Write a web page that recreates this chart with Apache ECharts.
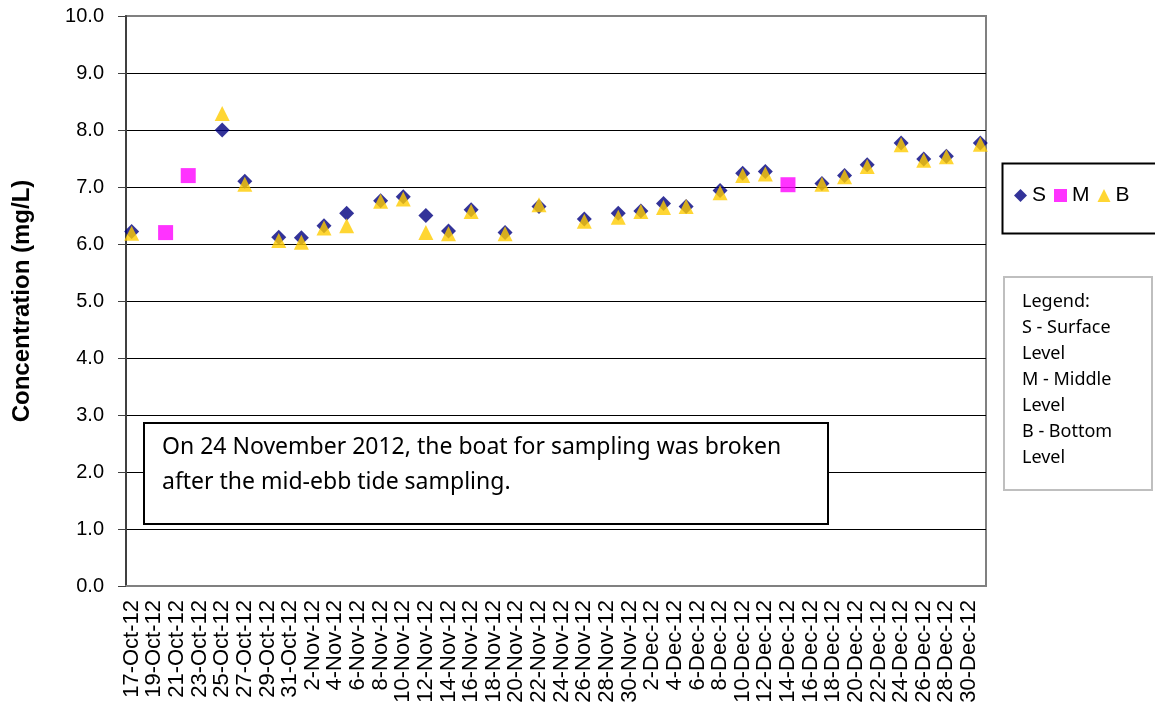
<!DOCTYPE html>
<html>
<head>
<meta charset="utf-8">
<script src="https://cdn.jsdelivr.net/npm/echarts@6/dist/echarts.min.js"></script>
<style>
  html, body { margin: 0; padding: 0; background: #fff; }
  #chart { width: 1155px; height: 714px; }
</style>
</head>
<body>
<div id="chart"></div>
<script>
// sampling days for surface / bottom level
const sbDates = ['17-Oct-12', '25-Oct-12', '27-Oct-12', '30-Oct-12', '1-Nov-12', '3-Nov-12', '5-Nov-12',
  '8-Nov-12', '10-Nov-12', '12-Nov-12', '14-Nov-12', '16-Nov-12', '19-Nov-12', '22-Nov-12', '26-Nov-12',
  '29-Nov-12', '1-Dec-12', '3-Dec-12', '5-Dec-12', '8-Dec-12', '10-Dec-12', '12-Dec-12', '17-Dec-12',
  '19-Dec-12', '21-Dec-12', '24-Dec-12', '26-Dec-12', '28-Dec-12', '31-Dec-12']
const surfaceValues = [6.22, 8.0, 7.1, 6.12, 6.11, 6.32, 6.54, 6.76, 6.83, 6.5, 6.23, 6.6, 6.2, 6.66, 6.44,
  6.54, 6.58, 6.71, 6.66, 6.94, 7.24, 7.27, 7.06, 7.2, 7.39, 7.77, 7.49, 7.54, 7.77]
const bottomValues = [6.19, 8.29, 7.05, 6.06, 6.03, 6.28, 6.32, 6.75, 6.79, 6.2, 6.18, 6.57, 6.18, 6.69, 6.4,
  6.47, 6.57, 6.64, 6.66, 6.9, 7.2, 7.23, 7.05, 7.18, 7.36, 7.74, 7.47, 7.53, 7.75]
// middle level only sampled on these days
const middleDates = ['20-Oct-12', '22-Oct-12', '14-Dec-12']
const middleValues = [6.2, 7.2, 7.04]

// daily category axis, 17-Oct-12 .. 31-Dec-12
const months = ['Jan', 'Feb', 'Mar', 'Apr', 'May', 'Jun', 'Jul', 'Aug', 'Sep', 'Oct', 'Nov', 'Dec']
const days = []
for (let d = new Date(2012, 9, 17); d <= new Date(2012, 11, 31); d.setDate(d.getDate() + 1)) {
  days.push(d.getDate() + '-' + months[d.getMonth()] + '-12')
}

const pair = (xs, ys) => xs.map((x, i) => [x, ys[i]])

const font = "'Liberation Sans', Arial, sans-serif"
const gridColors = ['#808080', '#000', '#000', '#000', '#000', '#000', '#000', '#000', '#000', '#000', '#808080']

var myChart = echarts.init(document.getElementById('chart'), null, { renderer: 'canvas' })
var option = {
  animation: false,
  textStyle: { fontFamily: font },
  grid: { left: 126, top: 16, width: 860, height: 570, show: true, borderColor: '#808080', borderWidth: 2 },
  legend: {
    left: 1014, top: 185, padding: 0,
    itemWidth: 13, itemHeight: 13, itemGap: 8,
    textStyle: { fontSize: 21, color: '#000', fontFamily: font },
    data: [{ name: 'S', icon: 'diamond' }, { name: 'M', icon: 'rect' }, { name: 'B', icon: 'triangle' }]
  },
  xAxis: {
    type: 'category',
    data: days,
    boundaryGap: true,
    axisLine: { lineStyle: { color: '#808080', width: 2 } },
    axisTick: { interval: 1, length: 7, lineStyle: { color: '#808080' } },
    axisLabel: { interval: 1, rotate: 90, margin: 14, fontSize: 22, color: '#000', fontFamily: font },
    splitLine: { show: false }
  },
  yAxis: {
    type: 'value',
    min: 0, max: 10, interval: 1,
    name: 'Concentration (mg/L)',
    nameLocation: 'middle',
    nameGap: 92,
    nameRotate: 90,
    nameTextStyle: { fontSize: 24, fontWeight: 'bold', color: '#000', fontFamily: font },
    axisLine: { show: true, lineStyle: { color: '#404040', width: 2 } },
    axisTick: { show: true, length: 8, lineStyle: { color: '#404040' } },
    axisLabel: { margin: 22, fontSize: 20, color: '#000', fontFamily: font, formatter: v => v.toFixed(1) },
    splitLine: { lineStyle: { color: gridColors, width: 1 } }
  },
  series: [
    { name: 'S', type: 'scatter', symbol: 'diamond', symbolSize: 15, itemStyle: { color: '#000080' }, data: pair(sbDates, surfaceValues), z: 2 },
    { name: 'M', type: 'scatter', symbol: 'rect', symbolSize: 15, itemStyle: { color: '#FF00FF' }, data: pair(middleDates, middleValues), z: 3 },
    { name: 'B', type: 'scatter', symbol: 'triangle', symbolSize: 15, itemStyle: { color: '#FFCC00' }, data: pair(sbDates, bottomValues), z: 4 }
  ],
  graphic: [
    // note box
    {
      type: 'rect', left: 143, top: 422, z: 10,
      shape: { width: 684, height: 101 },
      style: { fill: '#fff', stroke: '#000', lineWidth: 2 }
    },
    {
      type: 'text', left: 162, top: 430, z: 11,
      style: {
        text: 'On 24 November 2012, the boat for sampling was broken\nafter the mid-ebb tide sampling.',
        font: '23px "Noto Sans", sans-serif', fill: '#000', lineHeight: 35
      }
    },
    // frame around series legend
    {
      type: 'rect', left: 1000, top: 161, z: 10,
      shape: { width: 170, height: 70 },
      style: { fill: 'none', stroke: '#000', lineWidth: 2 }
    },
    // explanation box
    {
      type: 'rect', left: 1003, top: 276, z: 10,
      shape: { width: 148, height: 213 },
      style: { fill: '#fff', stroke: '#BFBFBF', lineWidth: 2 }
    },
    {
      type: 'text', left: 1022, top: 289, z: 11,
      style: {
        text: 'Legend:\nS - Surface\nLevel\nM - Middle\nLevel\nB - Bottom\nLevel',
        font: '18px "Noto Sans", sans-serif', fill: '#000', lineHeight: 26
      }
    }
  ]
}
option && myChart.setOption(option)
</script>
</body>
</html>
